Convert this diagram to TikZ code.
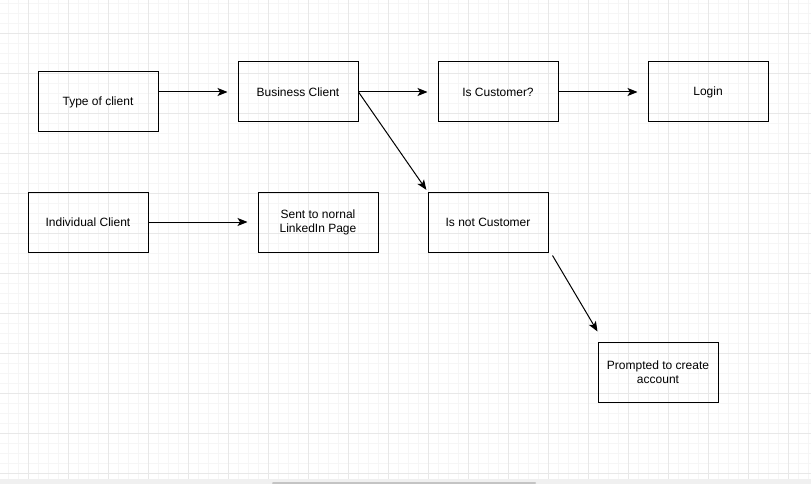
\documentclass[tikz,border=0pt]{standalone}
\usepackage{fontspec}
\setmainfont{Liberation Sans}
\usetikzlibrary{arrows.meta,calc}
\definecolor{minorgrid}{HTML}{F6F6F6}
\definecolor{majorgrid}{HTML}{E8E8E8}
\definecolor{barback}{HTML}{F0F0F0}
\definecolor{barthumb}{HTML}{C4C4C4}
\begin{document}
\begin{tikzpicture}[x=1pt,y=-1pt,
  box/.style={draw,line width=1pt,minimum width=120pt,minimum height=60pt,align=center,
    font=\fontsize{12}{14}\selectfont},
  arr/.style={line width=1pt,-{Stealth[length=10pt,width=8pt,inset=2.5pt]}}]
\useasboundingbox (0,0) rectangle (811,484);
\fill[white] (0,0) rectangle (811,484);
% grid
\foreach \x in {8,18,...,808} \draw[minorgrid,line width=0.8pt] (\x,0) -- (\x,479);
\foreach \y in {3,13,...,473} \draw[minorgrid,line width=0.8pt] (0,\y) -- (811,\y);
\foreach \x in {28,68,...,808} \draw[majorgrid,line width=0.8pt] (\x,0) -- (\x,479);
\foreach \y in {33,73,...,473} \draw[majorgrid,line width=0.8pt] (0,\y) -- (811,\y);
\fill[barback] (0,479) rectangle (811,484);
\fill[barthumb,rounded corners=1pt] (272,482) rectangle (536,484);
% boxes
\node[box] (tc) at (98,102) {Type of client};
\node[box] (bc) at (298,92) {Business Client};
\node[box] (ic) at (498,92) {Is Customer?};
\node[box] (lg) at (708,92) {Login};
\node[box] (ind) at (88,222) {Individual Client};
\node[box] (snt) at (318,222) {Sent to nornal\\LinkedIn Page};
\node[box] (inc) at (488,222) {Is not Customer};
\node[box] (pc) at (658,372) {Prompted to create\\account};
% arrows
\draw[arr,shorten >=10pt] (tc.east |- bc) -- (bc.west);
\foreach \i/\j in {bc.east/ic.west,ic.east/lg.west,ind.east/snt.west}
  \draw[arr,shorten >=10pt] (\i) -- (\j);
\draw[arr,shorten >=2pt] (bc.east) -- (inc.north west);
\draw[arr] ($(inc.south east)+(4,3)$) -- ($(pc.north west)+(0,-10)$);
\end{tikzpicture}
\end{document}
